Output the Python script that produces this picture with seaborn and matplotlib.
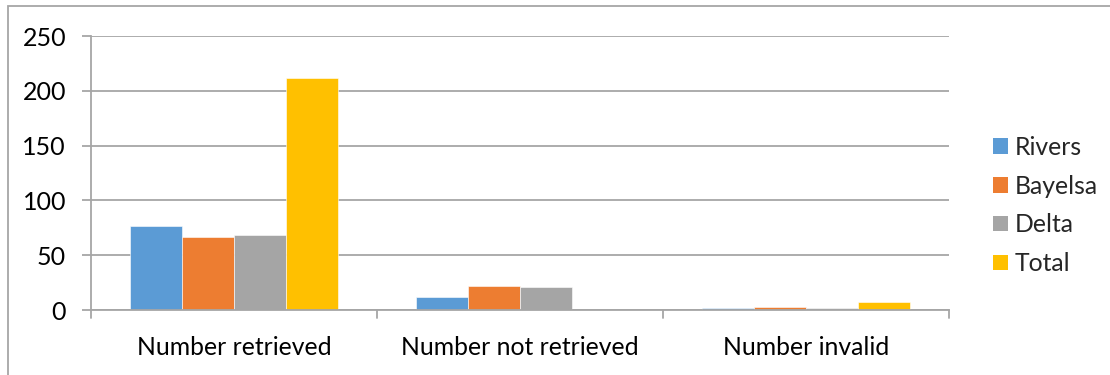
import matplotlib
matplotlib.use("Agg")
import matplotlib.pyplot as plt
import matplotlib.patches as mpatches
import seaborn as sns
import pandas as pd

# Survey tallies per state
categories = ["Number retrieved", "Number not retrieved", "Number invalid"]
states = ["Rivers", "Bayelsa", "Delta", "Total"]
rivers = [77, 12, 2]
bayelsa = [67, 22, 3]
delta = [68, 21, 2]
total = [212, 0, 7]
yticks = [0, 50, 100, 150, 200, 250]

colors = ["#5B9BD5", "#ED7D31", "#A5A5A5", "#FFC000"]

rows = []
for state, vals in zip(states, [rivers, bayelsa, delta, total]):
    for cat, v in zip(categories, vals):
        rows.append({"category": cat, "state": state, "value": v})
df = pd.DataFrame(rows)

sns.set_theme(style="white")
plt.rcParams["font.family"] = ["Lato", "DejaVu Sans"]

FS = 17.8

fig = plt.figure(figsize=(11.1, 3.75), dpi=100)
ax = fig.add_axes([91 / 1110, 1 - 310 / 375, (949 - 91) / 1110, (310 - 36) / 375])

sns.barplot(data=df, x="category", y="value", hue="state", order=categories,
            hue_order=states, palette=colors, width=0.727, saturation=1,
            errorbar=None, ax=ax, legend=False, edgecolor="white", linewidth=0.4)

ax.set_ylim(0, 250)
ax.set_xlim(-0.5, 2.5)
ax.set_yticks(yticks)
ax.set_yticklabels([str(t) for t in yticks], fontsize=18, color="#000000")
ax.set_xticks(range(len(categories)))
ax.set_xticklabels(categories, fontsize=FS, color="#000000")
ax.set_xlabel("")
ax.set_ylabel("")

grid_col = "#A6A6A6"
ax.yaxis.grid(True, color=grid_col, linewidth=1.3)
ax.set_axisbelow(True)
for side in ["top", "right"]:
    ax.spines[side].set_visible(False)
for side in ["left", "bottom"]:
    ax.spines[side].set_color(grid_col)
    ax.spines[side].set_linewidth(1.3)

# y ticks stick out to the left; category boundaries ticked on the baseline
ax.tick_params(axis="y", left=True, length=6.5, width=1.3, color=grid_col, pad=11.5)
ax.tick_params(axis="x", bottom=False, pad=13)
for xb in [-0.5, 0.5, 1.5, 2.5]:
    ax.plot([xb, xb], [0, -7], color=grid_col, linewidth=1.3, clip_on=False,
            transform=ax.transData)

handles = [mpatches.Patch(facecolor=c, edgecolor="none", label=s)
           for s, c in zip(states, colors)]
fig.legend(handles=handles, loc="center left",
           bbox_to_anchor=(971 / 1110, 1 - 205.5 / 375), frameon=False,
           fontsize=FS, handlelength=0.58, handleheight=0.58, handletextpad=0.3,
           labelspacing=0.64)

# chart frame
fig.patches.append(mpatches.Rectangle((8 / 1110, -0.1), 1.2, 1 - 6 / 375 + 0.1,
                                      transform=fig.transFigure, fill=False,
                                      edgecolor="#A6A6A6", linewidth=1.3))

fig.savefig("out.png", dpi=100, facecolor="white")
